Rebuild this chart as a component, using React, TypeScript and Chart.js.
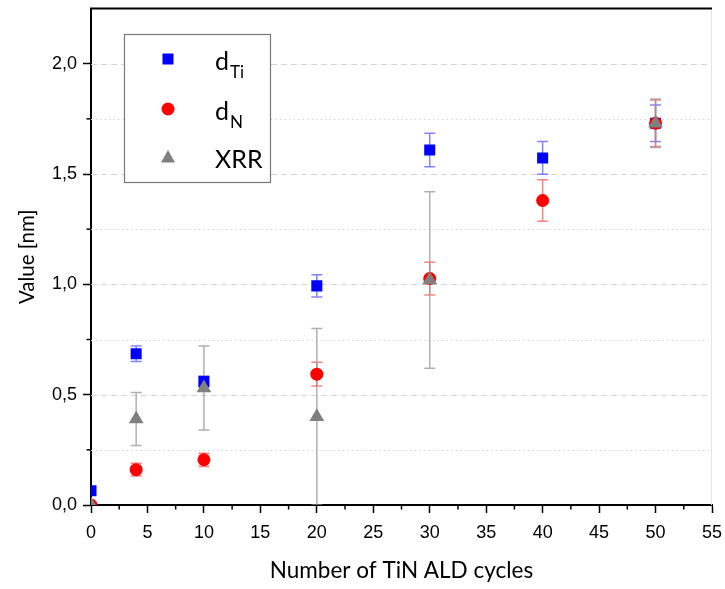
import React, { useEffect, useRef } from 'react';
import { Chart, registerables } from 'chart.js';
Chart.register(...registerables);

// ---- data ----
const dTiCycles = [0, 4, 10, 20, 30, 40, 50];
const dTiValues = [0.065, 0.685, 0.56, 0.993, 1.609, 1.573, 1.73];
const dTiErrors = [0, 0.035, 0.025, 0.05, 0.076, 0.074, 0.083];

const dNCycles = [0, 4, 10, 20, 30, 40, 50];
const dNValues = [0, 0.16, 0.205, 0.593, 1.026, 1.38, 1.73];
const dNErrors = [0, 0.029, 0.03, 0.054, 0.074, 0.094, 0.105];

const xrrCycles = [0, 4, 10, 20, 30, 50];
const xrrValues = [0, 0.39, 0.53, 0.4, 1.02, 1.73];
const xrrErrors = [0, 0.12, 0.19, 0.4, 0.4, 0.11];

const xTicks = [0, 5, 10, 15, 20, 25, 30, 35, 40, 45, 50, 55];
const xMinorTicks = [2.5, 7.5, 12.5, 17.5, 22.5, 27.5, 32.5, 37.5, 42.5, 47.5, 52.5];
const yTicks = [0, 0.5, 1.0, 1.5, 2.0];
const yMinorTicks = [0.25, 0.75, 1.25, 1.75];

const seriesNames = ['d', 'd', 'XRR'];
const seriesSubs = ['Ti', 'N', ''];

const W = 725;
const H = 589;

const toPts = (xs: number[], ys: number[]) => xs.map((x, i) => ({ x, y: ys[i] }));

export default function App() {
  const ref = useRef<HTMLCanvasElement | null>(null);

  useEffect(() => {
    document.body.style.margin = '0';
    const canvas = ref.current;
    if (!canvas) return;

    const errorSets = [
      { xs: dTiCycles, ys: dTiValues, es: dTiErrors, color: 'rgba(90,90,255,0.75)' },
      { xs: dNCycles, ys: dNValues, es: dNErrors, color: 'rgba(255,90,90,0.75)' },
      { xs: xrrCycles, ys: xrrValues, es: xrrErrors, color: 'rgba(150,150,150,0.75)' },
    ];

    const gridPlugin = {
      id: 'gridAndErrors',
      beforeDatasetsDraw(chart: any) {
        const { ctx, chartArea, scales } = chart;
        const xs = scales.x;
        const ys = scales.y;
        ctx.save();
        ctx.lineWidth = 1;
        ctx.strokeStyle = '#d4d4d4';
        ctx.setLineDash([6, 4]);
        yTicks.slice(1).forEach((v) => {
          const py = Math.round(ys.getPixelForValue(v)) + 0.5;
          ctx.beginPath();
          ctx.moveTo(chartArea.left, py);
          ctx.lineTo(chartArea.right, py);
          ctx.stroke();
        });
        ctx.setLineDash([1.5, 3]);
        yMinorTicks.forEach((v) => {
          const py = Math.round(ys.getPixelForValue(v)) + 0.5;
          ctx.beginPath();
          ctx.moveTo(chartArea.left, py);
          ctx.lineTo(chartArea.right, py);
          ctx.stroke();
        });
        ctx.setLineDash([]);
        ctx.strokeStyle = '#e4e4e4';
        ctx.beginPath();
        ctx.moveTo(chartArea.right - 0.5, chartArea.top);
        ctx.lineTo(chartArea.right - 0.5, chartArea.bottom);
        ctx.stroke();

        ctx.beginPath();
        ctx.rect(chartArea.left, chartArea.top, chartArea.right - chartArea.left, chartArea.bottom - chartArea.top);
        ctx.clip();
        ctx.lineWidth = 1.5;
        errorSets.forEach((s) => {
          ctx.strokeStyle = s.color;
          s.xs.forEach((x, i) => {
            const e = s.es[i];
            if (!e) return;
            const px = xs.getPixelForValue(x);
            const top = ys.getPixelForValue(s.ys[i] + e);
            const bot = ys.getPixelForValue(s.ys[i] - e);
            ctx.beginPath();
            ctx.moveTo(px, top);
            ctx.lineTo(px, bot);
            ctx.moveTo(px - 5.5, top);
            ctx.lineTo(px + 5.5, top);
            ctx.moveTo(px - 5.5, bot);
            ctx.lineTo(px + 5.5, bot);
            ctx.stroke();
          });
        });
        ctx.restore();
      },
      afterDraw(chart: any) {
        const { ctx, chartArea, scales } = chart;
        const xs = scales.x;
        const ys = scales.y;
        ctx.save();
        ctx.strokeStyle = '#000';
        ctx.lineWidth = 1.5;
        xMinorTicks.forEach((v) => {
          const px = xs.getPixelForValue(v);
          ctx.beginPath();
          ctx.moveTo(px, chartArea.bottom);
          ctx.lineTo(px, chartArea.bottom + 4.5);
          ctx.stroke();
        });
        yMinorTicks.forEach((v) => {
          const py = ys.getPixelForValue(v);
          ctx.beginPath();
          ctx.moveTo(chartArea.left, py);
          ctx.lineTo(chartArea.left - 4.5, py);
          ctx.stroke();
        });
        // top frame line
        ctx.lineWidth = 2;
        ctx.beginPath();
        ctx.moveTo(chartArea.left - 1, chartArea.top);
        ctx.lineTo(chartArea.right, chartArea.top);
        ctx.stroke();

        // legend
        const bx = 124.5, by = 34.5, bw = 146, bh = 148;
        ctx.fillStyle = '#fff';
        ctx.fillRect(bx, by, bw, bh);
        ctx.strokeStyle = '#777';
        ctx.lineWidth = 1.2;
        ctx.strokeRect(bx, by, bw, bh);
        const rowY = [59, 109, 157];
        const colors = ['#0000ff', '#ff0000', '#808080'];
        const mx = 168;
        rowY.forEach((y, i) => {
          ctx.fillStyle = colors[i];
          ctx.beginPath();
          if (i === 0) {
            ctx.rect(mx - 5.5, y - 5.5, 11, 11);
          } else if (i === 1) {
            ctx.arc(mx, y, 6.5, 0, Math.PI * 2);
          } else {
            ctx.moveTo(mx, y - 7);
            ctx.lineTo(mx + 7, y + 5.5);
            ctx.lineTo(mx - 7, y + 5.5);
            ctx.closePath();
          }
          ctx.fill();
          ctx.fillStyle = '#000';
          ctx.textBaseline = 'alphabetic';
          ctx.textAlign = 'left';
          ctx.font = '25px Lato';
          ctx.fillText(seriesNames[i], 215, y + 11);
          if (seriesSubs[i]) {
            const w = ctx.measureText(seriesNames[i]).width;
            ctx.font = '17px Lato';
            ctx.fillText(seriesSubs[i], 215 + w + 1, y + 19);
          }
        });
        ctx.restore();
      },
    };

    const chart = new Chart(canvas, {
      type: 'scatter',
      data: {
        datasets: [
          {
            label: 'dTi',
            data: toPts(dTiCycles, dTiValues),
            pointStyle: 'rect',
            pointRadius: 7.8,
            backgroundColor: '#0000ff',
            borderWidth: 0,
            order: 3,
            clip: 0,
          },
          {
            label: 'dN',
            data: toPts(dNCycles, dNValues),
            pointStyle: 'circle',
            pointRadius: 6.5,
            backgroundColor: '#ff0000',
            borderWidth: 0,
            order: 2,
            clip: 0,
          },
          {
            label: 'XRR',
            data: toPts(xrrCycles, xrrValues),
            pointStyle: 'triangle',
            pointRadius: 8.5,
            backgroundColor: '#808080',
            borderWidth: 0,
            order: 1,
            clip: 0,
          },
        ] as any,
      },
      options: {
        responsive: false,
        animation: false,
        layout: { padding: { top: 2, right: 13, left: 0, bottom: 0 } },
        plugins: { legend: { display: false }, tooltip: { enabled: false } },
        scales: {
          x: {
            type: 'linear',
            min: 0,
            max: 55,
            afterBuildTicks: (s: any) => { s.ticks = xTicks.map((v) => ({ value: v })); },
            afterFit: (s: any) => { s.height = 84; s.paddingLeft = 0; s.paddingRight = 0; },
            grid: { drawOnChartArea: false, tickLength: 8, tickColor: '#000', tickWidth: 1.5 },
            border: { color: '#000', width: 2 },
            ticks: {
              color: '#000',
              font: { family: 'Liberation Sans', size: 18 },
              padding: 9,
              maxRotation: 0,
              autoSkip: false,
            },
            title: {
              display: true,
              text: 'Number of TiN ALD cycles',
              color: '#000',
              font: { family: 'Lato', size: 22.5 },
              padding: { top: 0, bottom: 5 },
            },
          },
          y: {
            type: 'linear',
            min: 0,
            max: 2.25,
            afterBuildTicks: (s: any) => { s.ticks = yTicks.map((v) => ({ value: v })); },
            afterFit: (s: any) => { s.width = 91; s.paddingTop = 0; s.paddingBottom = 0; },
            grid: { drawOnChartArea: false, tickLength: 8, tickColor: '#000', tickWidth: 1.5 },
            border: { color: '#000', width: 2 },
            ticks: {
              color: '#000',
              font: { family: 'Liberation Sans', size: 18 },
              padding: 6,
              callback: (v: any) => Number(v).toFixed(1).replace('.', ','),
            },
            title: {
              display: true,
              text: 'Value [nm]',
              color: '#000',
              font: { family: 'Lato', size: 20.5 },
              padding: { top: 15, bottom: 0 },
            },
          },
        },
      },
      plugins: [gridPlugin],
    } as any);

    return () => chart.destroy();
  }, []);

  return (
    <div style={{ width: W, height: H }}>
      <canvas ref={ref} width={W} height={H} style={{ display: 'block' }} />
    </div>
  );
}
